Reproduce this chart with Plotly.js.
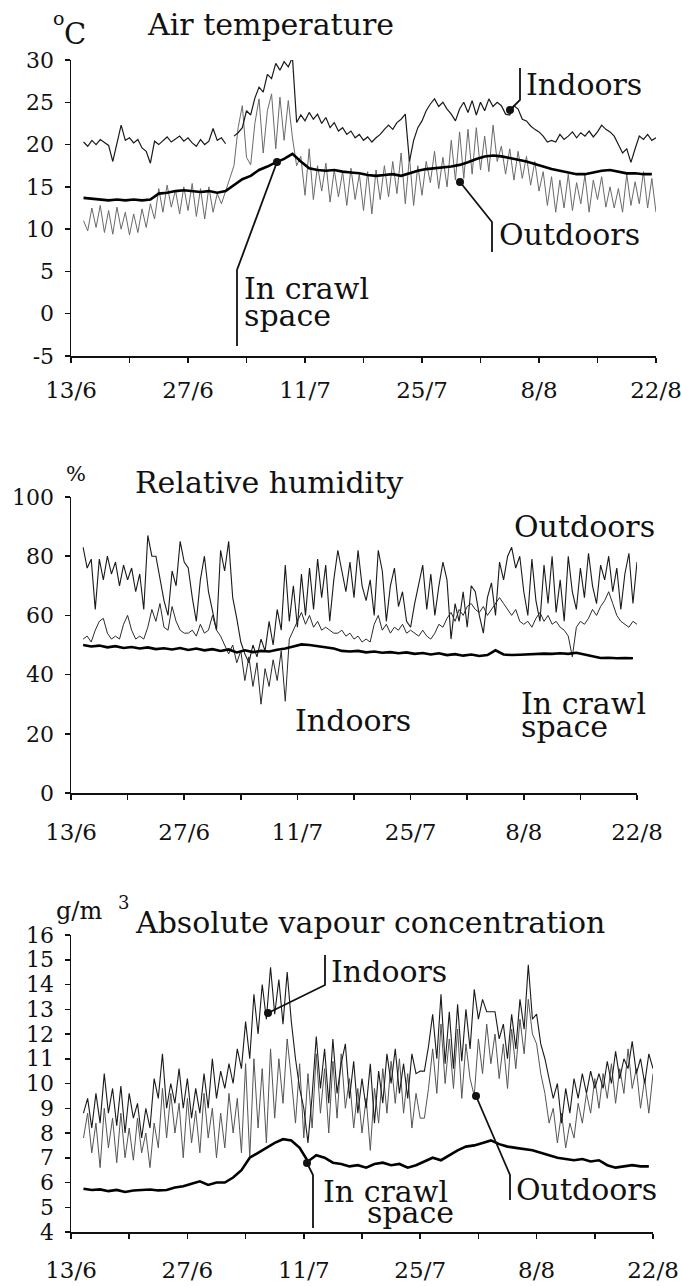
<!DOCTYPE html>
<html>
<head>
<meta charset="utf-8">
<script src="https://cdn.plot.ly/plotly-3.0.1.min.js"></script>
<style>html,body{margin:0;padding:0;background:#fff}#chart{width:681px;height:1286px}</style>
</head>
<body>
<div id="chart"></div>
<script>
// ---------------- DATA (days after 13/6) ----------------
const tickDays   = [0, 7, 14, 21, 28, 35, 42, 49, 56, 63, 70];
const tickLabels = ['13/6', '', '27/6', '', '11/7', '', '25/7', '', '8/8', '', '22/8'];
const tempTicks  = [-5, 0, 5, 10, 15, 20, 25, 30];
const tempTickLabels = ['-5', '0', '5', '10', '15', '20', '25', '30'];
const rhTicks    = [0, 20, 40, 60, 80, 100];
const avTicks    = [4, 5, 6, 7, 8, 9, 10, 11, 12, 13, 14, 15, 16];

// half-day samples start at day 1.5, step 0.5 ; daily samples start 1.5, step 1
const halfStart = 1.5, halfStep = 0.5;
const dayStart = 1.5, dayStep = 1;

// Air temperature (°C)
const tempIndoors = [
 20.3,19.8,20.5,20.0,20.6,20.2,19.9,18.0,20.1,22.3,
 20.5,20.8,20.2,20.6,19.6,19.2,17.8,20.4,20.0,20.5,
 20.9,20.3,20.7,21.0,20.4,20.8,20.2,19.8,20.6,20.0,
 20.4,21.9,20.5,20.8,20.1,null,21.0,21.4,22.0,24.0,
 23.5,25.5,26.8,26.2,28.3,27.8,29.6,28.8,29.8,29.2,
 30.3,22.6,23.5,22.8,23.8,23.0,23.6,22.5,23.2,22.0,
 22.6,21.6,22.0,21.2,21.6,20.8,21.2,20.5,20.9,20.3,
 20.8,21.2,21.8,22.3,21.8,22.6,23.0,23.6,18.0,20.5,
 22.0,22.8,24.0,24.8,25.4,24.5,25.0,24.2,23.6,22.8,
 24.2,25.0,23.8,25.2,23.5,25.0,24.0,25.4,24.5,25.0,
 24.6,23.6,23.5,24.6,24.2,23.0,22.8,22.2,21.8,21.5,
 21.0,20.3,20.5,20.3,21.2,20.6,21.0,21.5,20.8,21.4,
 21.0,21.6,20.9,21.5,22.3,21.8,21.5,21.0,20.0,19.0,
 19.5,17.9,19.5,21.0,20.6,21.2,20.5,20.8];
const tempOutdoors = [
 11.0,9.8,12.5,10.2,12.8,9.6,12.2,9.4,12.6,10.0,
 12.0,9.3,11.8,9.6,12.4,10.2,13.0,11.2,14.8,12.0,
 15.2,12.6,14.6,11.8,15.0,12.2,15.4,11.5,14.8,11.2,
 15.0,12.0,14.2,13.0,14.5,16.0,17.5,22.0,24.6,18.5,
 17.6,22.5,25.4,19.0,24.0,26.0,19.5,25.6,20.5,25.2,
 20.8,17.5,18.6,14.0,19.5,13.5,17.5,14.5,17.8,13.2,
 17.0,13.8,16.8,12.8,17.2,13.5,16.5,12.2,16.8,11.8,
 17.0,13.5,17.5,13.8,18.0,14.2,19.0,13.0,18.5,12.8,
 17.5,14.0,18.0,15.5,19.2,14.8,18.5,15.0,20.5,15.8,
 21.5,16.0,21.8,16.5,22.0,17.0,21.0,16.8,22.3,18.0,
 19.8,16.5,19.5,15.8,19.2,16.0,18.6,15.2,18.0,14.5,
 16.8,12.8,16.2,12.0,15.8,12.5,16.5,12.2,15.5,13.0,
 16.4,12.0,15.8,13.5,16.2,12.6,15.0,12.5,14.8,12.0,
 16.5,12.8,15.6,13.0,16.8,12.5,16.0,12.0];
const tempCrawl = [
 13.7,13.6,13.5,13.4,13.5,13.4,13.5,13.4,13.5,14.2,
 14.3,14.5,14.6,14.5,14.4,14.5,14.3,14.5,15.2,15.9,
 16.3,17.0,17.4,17.9,18.3,18.9,18.0,17.2,17.0,16.9,
 17.0,16.8,16.7,16.6,16.4,16.3,16.4,16.5,16.3,16.6,
 16.9,17.1,17.2,17.3,17.4,17.6,17.9,18.3,18.6,18.7,
 18.6,18.4,18.2,18.0,17.7,17.4,17.1,16.9,16.7,16.5,
 16.5,16.7,16.9,17.0,16.8,16.6,16.6,16.5,16.5];

// Relative humidity (%)
const rhOutdoors = [
 83,76,79,62,79,72,80,74,78,70,
 77,72,76,68,74,62,87,80,80,72,
 65,60,75,70,85,78,76,66,58,72,
 80,68,62,55,82,75,85,66,59,51,
 47,44,50,46,52,48,58,50,62,55,
 77,58,70,56,74,60,76,62,79,66,
 77,58,72,82,75,68,78,66,82,70,
 65,72,60,82,75,58,70,76,63,68,
 58,56,64,70,77,62,74,60,70,78,
 72,52,64,58,68,56,70,68,60,54,
 66,71,60,78,72,80,83,76,80,68,
 60,79,65,58,77,64,80,61,72,58,
 80,68,62,76,66,81,70,64,77,72,
 80,68,76,62,74,81,64,78];
const rhIndoors = [
 52,53,51,55,58,59,54,52,53,52,
 57,60,55,52,53,52,56,62,58,64,
 56,55,63,58,55,54,54,55,53,57,
 54,55,60,55,53,50,47,50,44,48,
 38,46,36,44,30,42,36,45,38,48,
 31,52,55,58,61,57,60,56,58,55,
 56,55,54,54,55,53,54,52,53,51,
 52,51,57,60,55,57,54,56,55,57,
 54,55,54,53,55,53,52,54,57,56,
 59,61,58,62,60,63,64,62,61,63,
 60,62,64,66,64,62,60,62,58,57,
 58,56,59,61,58,60,57,58,56,55,
 53,46,56,58,57,59,62,60,63,65,
 68,64,60,58,57,56,58,57];
const rhCrawl = [
 50.0,49.5,49.8,49.2,49.6,49.0,49.3,48.8,49.2,48.6,
 48.9,48.5,49.0,48.3,48.8,48.2,48.6,48.0,48.5,47.5,
 48.2,47.6,48.0,47.8,48.4,48.8,49.5,50.2,50.0,49.6,
 49.3,48.8,48.0,47.8,48.0,47.5,47.8,47.4,47.6,47.2,
 47.5,47.0,47.3,46.8,47.2,46.6,46.9,46.4,46.8,46.3,
 46.6,48.2,46.8,46.6,46.7,46.9,47.0,47.1,47.0,47.2,
 47.0,47.4,46.8,46.2,45.6,45.7,45.5,45.6,45.5];

// Absolute vapour concentration (g/m3)
const avIndoors = [
 8.8,9.4,8.2,9.6,8.4,10.4,8.8,9.8,8.3,9.9,
 8.0,9.6,8.6,9.2,7.8,9.0,8.2,10.2,9.4,11.2,
 9.0,10.0,9.2,10.6,9.0,10.2,8.6,9.8,8.8,10.4,
 9.0,11.0,9.4,10.5,9.8,10.8,10.0,11.4,10.6,12.5,
 11.0,13.6,12.0,14.0,12.6,14.7,12.8,14.2,12.4,14.5,
 12.5,11.0,9.8,9.0,7.6,9.5,11.9,9.8,11.4,9.2,
 11.8,9.6,10.8,11.6,9.4,10.9,8.8,10.2,9.0,10.8,
 8.4,10.5,9.2,11.2,10.0,11.4,9.6,10.8,9.4,11.2,
 10.4,10.5,10.5,11.5,12.8,11.0,13.6,10.8,12.9,10.6,
 13.2,10.9,13.0,11.4,13.8,12.6,13.4,12.9,12.9,12.9,
 11.8,12.4,11.0,12.8,11.4,13.4,12.2,14.8,12.6,12.8,
 11.6,11.0,10.2,9.4,10.0,8.4,9.8,8.8,10.2,9.4,
 10.4,9.6,10.5,9.8,10.4,9.8,10.9,10.0,11.3,10.2,
 11.0,10.6,11.7,10.4,11.0,10.0,11.2,10.6];
const avOutdoors = [
 7.8,8.8,7.2,8.4,6.6,9.0,7.4,8.6,6.8,8.8,
 7.0,8.2,6.9,8.6,7.2,8.0,6.6,8.4,7.4,9.8,
 7.8,9.6,8.0,9.2,7.0,9.4,7.6,8.9,7.2,9.6,
 7.8,9.0,7.0,8.8,7.4,9.6,8.0,9.4,7.2,10.8,
 7.0,11.0,8.2,10.6,7.6,11.4,8.6,11.0,9.2,11.8,
 10.2,8.4,10.8,7.8,10.4,8.2,11.2,8.8,10.6,8.0,
 10.9,8.6,11.2,9.0,10.2,8.2,9.8,8.0,9.4,7.3,
 9.8,8.4,10.6,8.8,10.9,9.2,11.0,8.8,10.4,8.2,
 9.6,8.6,8.6,9.8,11.4,9.6,12.4,10.0,11.8,9.8,
 12.2,9.4,11.6,10.2,9.5,11.8,10.4,12.4,10.8,12.0,
 10.2,11.6,9.8,12.2,10.6,12.6,11.2,13.4,12.0,11.6,
 10.4,9.6,8.4,9.0,7.6,8.8,7.4,8.4,7.8,9.2,
 8.4,9.6,8.8,10.2,9.0,10.4,9.4,10.8,9.2,10.6,
 9.6,11.4,9.8,10.6,9.0,10.2,8.8,10.4];
const avCrawl = [
 5.75,5.70,5.72,5.65,5.70,5.62,5.68,5.70,5.72,5.68,
 5.70,5.80,5.85,5.95,6.05,5.90,6.00,6.00,6.20,6.50,
 7.00,7.20,7.40,7.60,7.75,7.70,7.40,6.85,7.10,7.00,
 6.80,6.75,6.65,6.70,6.60,6.75,6.80,6.70,6.75,6.60,
 6.70,6.85,7.00,6.90,7.10,7.30,7.45,7.50,7.60,7.70,
 7.55,7.45,7.40,7.35,7.30,7.20,7.10,7.00,6.95,6.90,
 6.95,6.85,6.90,6.70,6.60,6.65,6.70,6.65,6.65];

// ---------------- LAYOUT HELPERS ----------------
const W = 681, H = 1286;
const px = x => x / W;
const py = y => 1 - y / H;
const days = (start, step, arr) => arr.map((_, i) => start + i * step);
const FONT = 'DejaVu Serif';
const INK = '#111';

function tr(x, y, ax, color, width) {
  return {x: x, y: y, xaxis: 'x' + ax, yaxis: 'y' + ax, type: 'scatter', mode: 'lines',
          line: {color: color, width: width}, connectgaps: false, hoverinfo: 'skip', showlegend: false};
}
const hx = arr => days(halfStart, halfStep, arr);
const dx = arr => days(dayStart, dayStep, arr);

const data = [
  tr(hx(tempOutdoors), tempOutdoors, '', '#6a6a6a', 1.0),
  tr(hx(tempIndoors), tempIndoors, '', '#1a1a1a', 1.2),
  tr(dx(tempCrawl), tempCrawl, '', '#000', 2.6),
  tr(hx(rhOutdoors), rhOutdoors, '2', '#1a1a1a', 1.1),
  tr(hx(rhIndoors), rhIndoors, '2', '#2a2a2a', 1.0),
  tr(dx(rhCrawl), rhCrawl, '2', '#000', 2.6),
  tr(hx(avOutdoors), avOutdoors, '3', '#555', 1.0),
  tr(hx(avIndoors), avIndoors, '3', '#1a1a1a', 1.1),
  tr(dx(avCrawl), avCrawl, '3', '#000', 2.6)
];
data[0].xaxis = 'x'; data[0].yaxis = 'y';
data[1].xaxis = 'x'; data[1].yaxis = 'y';
data[2].xaxis = 'x'; data[2].yaxis = 'y';

function xax(x0, x1, anchor, standoff) {
  return {domain: [px(x0), px(x1)], range: [0, 70], anchor: anchor,
    tickvals: tickDays, ticktext: tickLabels, tickmode: 'array',
    showline: true, linecolor: INK, linewidth: 1.5, mirror: false,
    ticks: 'outside', ticklen: 5, tickwidth: 1.5, tickcolor: INK,
    ticklabelstandoff: standoff, ticklabeloverflow: 'allow',
    tickfont: {family: FONT, size: 23, color: INK},
    showgrid: false, zeroline: false, fixedrange: true, automargin: false};
}
function yax(ytop, ybot, range, vals, labels, anchor) {
  return {domain: [py(ybot), py(ytop)], range: range, anchor: anchor,
    tickmode: 'array', tickvals: vals, ticktext: labels,
    showline: true, linecolor: INK, linewidth: 1.5,
    ticks: 'outside', ticklen: 5, tickwidth: 1.5, tickcolor: INK,
    ticklabelstandoff: 6, ticklabeloverflow: 'allow',
    tickfont: {family: FONT, size: 22, color: INK},
    showgrid: false, zeroline: false, fixedrange: true, automargin: false};
}

function ann(text, x, y, size, anchor) {
  return {text: text, x: px(x), y: py(y), xref: 'paper', yref: 'paper',
    xanchor: anchor || 'left', yanchor: 'middle', showarrow: false,
    font: {family: FONT, size: size, color: INK}};
}
const annotations = [
  ann('Air temperature', 145, 24, 30),
  ann('o', 51, 18, 19),
  ann('C', 62, 34, 29),
  ann('Indoors', 524, 85, 30),
  ann('In crawl', 242, 288, 30),
  ann('space', 242, 315, 30),
  ann('Outdoors', 497, 235, 30),

  ann('Relative humidity', 133, 482, 30),
  ann('%', 64, 474, 21),
  ann('Outdoors', 512, 526, 30),
  ann('Indoors', 293, 720, 30),
  ann('In crawl', 519, 703, 30),
  ann('space', 519, 726, 30),

  ann('g/m', 54, 911, 24),
  ann('3', 116, 902, 18),
  ann('Absolute vapour concentration', 133, 923, 30),
  ann('Indoors', 329, 971, 30),
  ann('In crawl', 321, 1191, 30),
  ann('space', 365, 1212, 30),
  ann('Outdoors', 514, 1189, 30)
];

function leader(pts) {
  const d = pts.map((p, i) => (i ? 'L' : 'M') + px(p[0]) + ',' + py(p[1])).join(' ');
  return {type: 'path', xref: 'paper', yref: 'paper', path: d, line: {color: INK, width: 1.8}};
}
function dot(x, y) {
  const r = 4;
  return {type: 'circle', xref: 'paper', yref: 'paper', x0: px(x - r), x1: px(x + r),
    y0: py(y + r), y1: py(y - r), fillcolor: INK, line: {color: INK, width: 0}};
}
const shapes = [
  leader([[520, 68], [520, 100], [510, 110]]), dot(510, 110),
  leader([[237, 346], [237, 270], [277, 162]]), dot(277, 162),
  leader([[492, 252], [492, 222], [460, 182]]), dot(460, 182),
  leader([[325, 955], [325, 985], [268, 1013]]), dot(268, 1013),
  leader([[313, 1228], [313, 1175], [307, 1163]]), dot(307, 1163),
  leader([[510, 1200], [510, 1175], [476, 1096]]), dot(476, 1096)
];

const layout = {
  width: W, height: H,
  margin: {l: 0, r: 0, t: 0, b: 0, pad: 0},
  paper_bgcolor: '#fff', plot_bgcolor: 'rgba(0,0,0,0)',
  showlegend: false,
  xaxis: xax(71, 656, 'y', 8),
  yaxis: yax(60, 356, [-5, 30], tempTicks, tempTickLabels, 'x'),
  xaxis2: xax(71, 637, 'y2', 13),
  yaxis2: yax(497, 793, [0, 100], rhTicks, rhTicks.map(String), 'x2'),
  xaxis3: xax(71, 653, 'y3', 12),
  yaxis3: yax(935, 1232, [4, 16], avTicks, avTicks.map(String), 'x3'),
  annotations: annotations,
  shapes: shapes
};

Plotly.newPlot('chart', data, layout, {staticPlot: true, displayModeBar: false});
</script>
</body>
</html>
